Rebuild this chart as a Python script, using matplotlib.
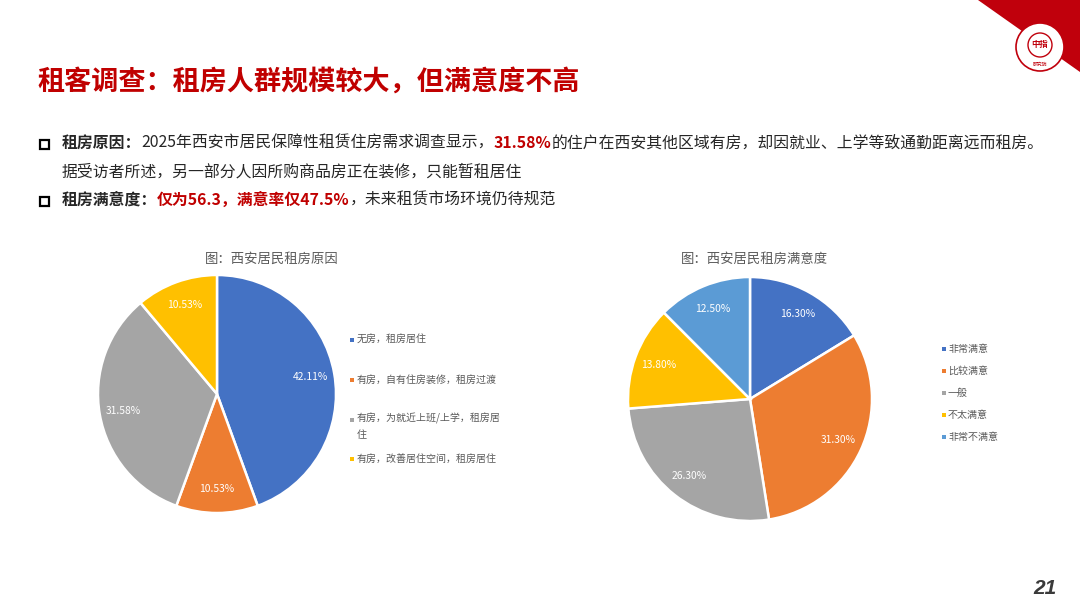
import matplotlib
matplotlib.use('Agg')
import matplotlib.pyplot as plt
from matplotlib.patches import Polygon, Circle, Rectangle

FAM = ['Noto Sans CJK SC', 'DejaVu Sans']
plt.rcParams['font.family'] = FAM

# ---------------- data ----------------
title = "租客调查：租房人群规模较大，但满意度不高"

pie1_title = "图：西安居民租房原因"
pie1_labels = ["无房，租房居住", "有房，自有住房装修，租房过渡",
               "有房，为就近上班/上学，租房居\n住", "有房，改善居住空间，租房居住"]
pie1_values = [42.11, 10.53, 31.58, 10.53]
pie1_colors = ["#4472C4", "#ED7D31", "#A5A5A5", "#FFC000"]

pie2_title = "图：西安居民租房满意度"
pie2_labels = ["非常满意", "比较满意", "一般", "不太满意", "非常不满意"]
pie2_values = [16.30, 31.30, 26.30, 13.80, 12.50]
pie2_colors = ["#4472C4", "#ED7D31", "#A5A5A5", "#FFC000", "#5B9BD5"]

RED = "#C00000"
DARK = "#262626"
GRAY = "#595959"

W, H = 1080, 608
fig = plt.figure(figsize=(10.8, 6.08), dpi=100)
fig.patch.set_facecolor('white')
ov = fig.add_axes([0, 0, 1, 1])
ov.set_xlim(0, W)
ov.set_ylim(H, 0)
ov.axis('off')
renderer = fig.canvas.get_renderer()

# corner decoration
ov.add_patch(Polygon([(978, 0), (W, 0), (W, 72)], closed=True, color="#C0000C", lw=0))
ov.add_patch(Circle((1040, 47), 24, facecolor='white', edgecolor='#C0000C', lw=1.2))
ov.add_patch(Circle((1040, 45), 12, facecolor='white', edgecolor='#C0000C', lw=1.0))
ov.text(1040, 45, "中指", color='#C0000C', fontsize=6, fontweight='bold', ha='center', va='center')
ov.text(1040, 64, "研究院", color='#C0000C', fontsize=3.5, ha='center', va='center')

# title
ov.text(37, 82, title, color=RED, fontsize=19.5, fontweight='bold', ha='left', va='center')


def rich(x, y, parts, size=11.4):
    for s, color, weight in parts:
        t = ov.text(x, y, s, color=color, fontweight=weight, fontsize=size,
                    ha='left', va='center')
        bb = t.get_window_extent(renderer)
        x = bb.x1


def bullet(x, y):
    ov.add_patch(Rectangle((x - 4.5, y - 4.5), 9, 9, facecolor='none', edgecolor='black', lw=1.6))


bullet(44, 144)
rich(62, 143, [("租房原因：", DARK, 'bold'),
               ("2025年西安市居民保障性租赁住房需求调查显示，", DARK, 'normal'),
               ("31.58%", RED, 'bold'),
               ("的住户在西安其他区域有房，却因就业、上学等致通勤距离远而租房。", DARK, 'normal')])
rich(62, 172, [("据受访者所述，另一部分人因所购商品房正在装修，只能暂租居住", DARK, 'normal')])
bullet(44, 201)
rich(62, 200, [("租房满意度：", DARK, 'bold'),
               ("仅为56.3，满意率仅47.5%", RED, 'bold'),
               ("，未来租赁市场环境仍待规范", DARK, 'normal')])


def draw_pie(cx, cy, r, values, colors):
    ax = fig.add_axes([(cx - r) / W, (H - cy - r) / H, 2 * r / W, 2 * r / H])
    it = iter(values)
    ax.pie(values, colors=colors, startangle=90, counterclock=False,
           wedgeprops=dict(edgecolor='white', linewidth=1.8),
           autopct=lambda p: f"{next(it):.2f}%", pctdistance=0.8,
           textprops=dict(color='white', fontsize=7.4))
    ax.set_xlim(-1, 1)
    ax.set_ylim(-1, 1)
    return ax


draw_pie(217, 394, 119, pie1_values, pie1_colors)
draw_pie(750, 399, 122, pie2_values, pie2_colors)

ov.text(272, 259, pie1_title, color=GRAY, fontsize=9.6, ha='center', va='center')
ov.text(754, 259, pie2_title, color=GRAY, fontsize=9.6, ha='center', va='center')

# legends
leg1_y = [340, 380, 420, 459]
for lab, col, y in zip(pie1_labels, pie1_colors, leg1_y):
    ov.add_patch(Rectangle((350, y - 1.8), 3.6, 3.6, color=col, lw=0))
    if '\n' in lab:
        ov.text(357, y - 7.5, lab, color=GRAY, fontsize=7.2, ha='left', va='top', linespacing=1.75)
    else:
        ov.text(357, y, lab, color=GRAY, fontsize=7.2, ha='left', va='center')

leg2_y = [349, 371, 393, 415, 437]
for lab, col, y in zip(pie2_labels, pie2_colors, leg2_y):
    ov.add_patch(Rectangle((942, y - 1.8), 3.6, 3.6, color=col, lw=0))
    ov.text(948, y, lab, color=GRAY, fontsize=7.2, ha='left', va='center')

# page number
ov.text(1057, 589, "21", color="#3A3A3A", fontsize=15, fontweight='bold', fontstyle='italic',
        ha='right', va='center', family=['Liberation Sans', 'DejaVu Sans'])

fig.savefig('out.png', dpi=100)
